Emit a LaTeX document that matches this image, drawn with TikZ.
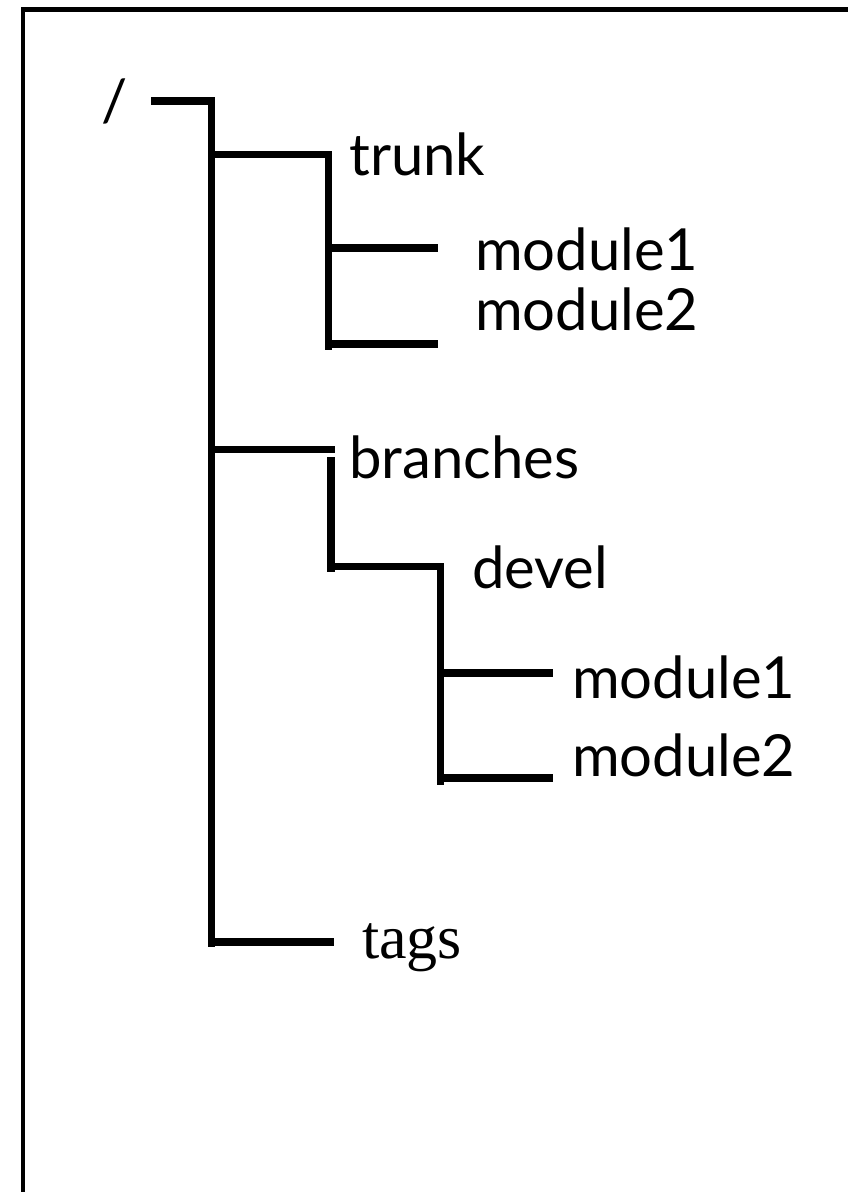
\documentclass[tikz,border=0pt]{standalone}
\usepackage{fontspec}
\setmainfont{Lato}
\newfontfamily\tagsfont{Liberation Serif}
\begin{document}
\begin{tikzpicture}[x=1pt,y=-1pt,
  lbl/.style={inner sep=0pt, anchor=base west, font=\fontsize{58}{60}\selectfont},
  tree/.style={line width=7.5pt, line join=miter},
  frame/.style={line width=4.5pt}]
\useasboundingbox (0,0) rectangle (848,1192);
\clip (0,0) rectangle (848,1192);
\coordinate (fTR) at (900,9.5);
\coordinate (fTL) at (23,9.5);
\coordinate (fBL) at (23,1250);
\draw[frame] (fTR) -- (fTL) -- (fBL);
% labels
\node[lbl] (root) at (101,121) {/};
\node[lbl] (trunk) at (349,175) {trunk};
\node[lbl] (tm1) at (475,270) {module1};
\node[lbl] (tm2) at (475,330) {module2};
\node[lbl] (branches) at (349,478) {branches};
\node[lbl] (devel) at (472,588) {devel};
\node[lbl] (dm1) at (572,698) {module1};
\node[lbl] (dm2) at (572,776) {module2};
\node[lbl, font=\tagsfont\fontsize{62}{64}\selectfont] (tags) at (362,958) {tags};
% junction coordinates
\coordinate (r0) at (151,101);
\coordinate (r1) at (211.5,101);
\coordinate (mainEnd) at (211.5,947);
\coordinate (t0) at (211.5,154.5);
\coordinate (t1) at (328.5,154.5);
\coordinate (tEnd) at (328.5,350);
\coordinate (tm1a) at (328.5,248);
\coordinate (tm1b) at (438,248);
\coordinate (tm2a) at (328.5,344);
\coordinate (tm2b) at (438,344);
\coordinate (b0) at (211.5,449.5);
\coordinate (b1) at (335,449.5);
\coordinate (bv0) at (331,457);
\coordinate (bv1) at (331,572);
\coordinate (d0) at (327,566.5);
\coordinate (d1) at (440.5,566.5);
\coordinate (dEnd) at (440.5,785);
\coordinate (dm1a) at (440.5,673);
\coordinate (dm1b) at (553,673);
\coordinate (dm2a) at (440.5,778);
\coordinate (dm2b) at (553,778);
\coordinate (g0) at (211.5,942);
\coordinate (g1) at (334,942);
% connectors
\draw[tree] (r0) -- (r1) -- (mainEnd);
\draw[tree] (t0) -- (t1) -- (tEnd);
\draw[tree] (tm1a) -- (tm1b);
\draw[tree] (tm2a) -- (tm2b);
\draw[tree] (b0) -- (b1);
\draw[tree] (bv0) -- (bv1);
\draw[tree] (d0) -- (d1) -- (dEnd);
\draw[tree] (dm1a) -- (dm1b);
\draw[tree] (dm2a) -- (dm2b);
\draw[tree] (g0) -- (g1);
\end{tikzpicture}
\end{document}
